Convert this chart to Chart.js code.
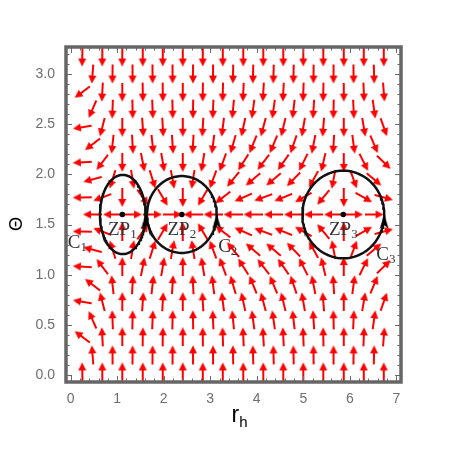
<!DOCTYPE html>
<html>
<head>
<meta charset="utf-8">
<script src="https://cdn.jsdelivr.net/npm/chart.js@4.4.1/dist/chart.umd.min.js"></script>
<style>
  html, body { margin: 0; padding: 0; background: #fff; }
  #wrap { width: 457px; height: 457px; }
</style>
</head>
<body>
<div id="wrap"><canvas id="myChart" width="457" height="457"></canvas></div>
<script>
// DATA

// grid of the vector field: rows alternate between the long and the shifted columns
const rLong = [0.25, 0.68, 1.11, 1.55, 1.98, 2.41, 2.84, 3.27, 3.71, 4.14, 4.57, 5.00, 5.43, 5.87, 6.30, 6.73];
const rShift = [0.47, 0.90, 1.33, 1.76, 2.19, 2.63, 3.06, 3.49, 3.92, 4.36, 4.79, 5.22, 5.65, 6.08, 6.52];
const thetaRows = [0.03, 0.20, 0.38, 0.55, 0.73, 0.90, 1.08, 1.25, 1.43, 1.60, 1.77, 1.95, 2.12, 2.30, 2.47, 2.65, 2.82, 3.00, 3.17];

// phi^r per column, phi^theta per row (arrow directions)
const phiRLong = [-10.5, -0.45, 0, 0.12, 0.10, 0, -0.10, -0.22, -0.38, -0.46, -0.42, -0.30, -0.14, 0, 0.30, 0.62];
const phiRShift = [-1.4, -0.12, 0.06, 0.12, 0.07, -0.06, -0.14, -0.31, -0.44, -0.45, -0.37, -0.21, -0.07, 0.14, 0.45];
const phiTheta = [500, 18, 7.9, 3.2, 1.75, 1.08, 0.6, 0.38, 0.17, 0, -0.17, -0.38, -0.6, -1.08, -1.75, -3.2, -7.9, -18, -500];

// zero points and the contours around them
const zpNames = ['1', '2', '3'];
const zpR = [1.11, 2.39, 5.86];
const zpTheta = 1.60;
const contourR0 = [1.12, 2.39, 5.86];
const contourA = [0.49, 0.75, 0.88];
const contourB = [0.395, 0.383, 0.437];
const contourLabelR = [-0.06, 3.17, 6.57];
const contourLabelTheta = [1.27, 1.23, 1.15];

const xTicks = [0, 1, 2, 3, 4, 5, 6, 7];
const yTicks = [0, 0.5, 1.0, 1.5, 2.0, 2.5, 3.0];


// GLYPHS

const makeArrow = (len, head, half, width, color) => {
    const c = document.createElement('canvas');
    c.width = len;
    c.height = half * 2 + 2;
    const g = c.getContext('2d');
    const mid = c.height / 2;
    g.strokeStyle = color;
    g.fillStyle = color;
    g.lineWidth = width;
    g.beginPath();
    g.moveTo(0, mid);
    g.lineTo(len - head + 1, mid);
    g.stroke();
    g.beginPath();
    g.moveTo(len - head, mid - half);
    g.lineTo(len, mid);
    g.lineTo(len - head, mid + half);
    g.closePath();
    g.fill();
    return c;
}

const makeHead = () => {
    const c = document.createElement('canvas');
    c.width = 10;
    c.height = 15;
    const g = c.getContext('2d');
    g.fillStyle = '#000';
    g.beginPath();
    g.moveTo(5, 0);
    g.lineTo(9.5, 15);
    g.lineTo(5, 11);
    g.lineTo(0.5, 15);
    g.closePath();
    g.fill();
    return c;
}

const arrowImg = makeArrow(19, 8, 4, 2, '#ff0000');
const headImg = makeHead();


// DATASETS

const arrowPoints = [];
thetaRows.forEach((t, k) => {
    const cols = k % 2 === 0 ? rLong : rShift;
    const phiR = k % 2 === 0 ? phiRLong : phiRShift;
    cols.forEach((r, i) => {
        const ang = Math.atan2(phiTheta[k], phiR[i]) * 180 / Math.PI;
        arrowPoints.push({x: r, y: t, rot: -ang});
    });
});

const contourPoints = (i) => {
    const pts = [];
    for (let s = 0; s <= 144; s++) {
        const u = s / 144 * 2 * Math.PI;
        pts.push({x: contourR0[i] + contourA[i] * Math.cos(u), y: zpTheta + contourB[i] * Math.sin(u)});
    }
    return pts;
}

const datasets = [
    {
        data: zpR.map(r => ({x: r, y: zpTheta})),
        pointStyle: 'circle',
        pointRadius: 2.8,
        pointBackgroundColor: '#000',
        pointBorderWidth: 0,
        order: 1,
    },
    {
        data: contourR0.map((r, i) => ({x: r + contourA[i], y: zpTheta - 0.07})),
        pointStyle: headImg,
        pointRadius: 5,
        order: 0,
    },
    ...contourR0.map((_, i) => ({
        data: contourPoints(i),
        showLine: true,
        borderColor: '#111',
        borderWidth: 2.5,
        pointRadius: 0,
        tension: 0,
        order: 2,
    })),
    {
        data: arrowPoints,
        pointStyle: arrowImg,
        pointRadius: 4,
        rotation: (c) => c.raw ? c.raw.rot : 0,
        order: 3,
    },
];


// TEXT AND FRAME

const drawSub = (ctx, main, sub, x, y, size, family, color, center) => {
    ctx.fillStyle = color;
    ctx.textBaseline = 'alphabetic';
    ctx.textAlign = 'left';
    const subSize = Math.round(size * 0.66);
    ctx.font = `${size}px ${family}`;
    const w1 = ctx.measureText(main).width;
    ctx.font = `${subSize}px ${family}`;
    const w2 = ctx.measureText(sub).width;
    const x0 = center ? x - (w1 + w2) / 2 : x;
    ctx.font = `${size}px ${family}`;
    ctx.fillText(main, x0, y);
    ctx.font = `${subSize}px ${family}`;
    ctx.fillText(sub, x0 + w1, y + size * 0.2);
}

const overlayPlugin = {
    id: 'overlay',
    afterDatasetsDraw(chart) {
        const {ctx, chartArea: a, scales: {x, y}} = chart;
        ctx.save();

        // zero point and contour labels
        zpR.forEach((r, i) => {
            drawSub(ctx, 'ZP', zpNames[i], x.getPixelForValue(r), y.getPixelForValue(zpTheta) + 20,
                19, '"Liberation Serif", serif', '#333', true);
            drawSub(ctx, 'C', zpNames[i], x.getPixelForValue(contourLabelR[i]), y.getPixelForValue(contourLabelTheta[i]),
                19, '"Liberation Serif", serif', '#333', false);
        });

        // frame ticks
        ctx.strokeStyle = '#6b6b6b';
        ctx.lineWidth = 1;
        const tick = (x1, y1, x2, y2) => {
            ctx.beginPath();
            ctx.moveTo(x1, y1);
            ctx.lineTo(x2, y2);
            ctx.stroke();
        };
        for (let i = 0; i <= 35; i++) {
            const px = Math.round(x.getPixelForValue(i * 0.2)) + 0.5;
            const len = i % 5 === 0 ? 6 : 3.5;
            tick(px, a.bottom, px, a.bottom - len);
            tick(px, a.top, px, a.top + len);
        }
        for (let i = 0; i <= 32; i++) {
            const py = Math.round(y.getPixelForValue(i * 0.1)) + 0.5;
            const len = i % 5 === 0 ? 6 : 3.5;
            tick(a.left, py, a.left + len, py);
            tick(a.right, py, a.right - len, py);
        }

        ctx.strokeStyle = '#666';
        ctx.lineWidth = 3.5;
        ctx.strokeRect(a.left, a.top, a.right - a.left, a.bottom - a.top);

        // axis titles
        const cx = (a.left + a.right) / 2;
        drawSub(ctx, 'r', 'h', cx - 2, a.bottom + 40, 23, '"Liberation Sans", sans-serif', '#000', false);

        ctx.translate(17.5, 224);
        ctx.rotate(-Math.PI / 2);
        ctx.font = '18px "Liberation Sans", sans-serif';
        ctx.textAlign = 'center';
        ctx.textBaseline = 'middle';
        ctx.fillStyle = '#000';
        ctx.fillText('Θ', 0, 0);
        ctx.restore();
    }
};


// MAIN

const tickFont = {family: 'Liberation Sans', size: 14};

new Chart(document.getElementById('myChart').getContext('2d'), {
    type: 'scatter',
    data: {datasets},
    options: {
        responsive: false,
        devicePixelRatio: 1,
        animation: false,
        events: [],
        layout: {padding: {left: 0, top: 47, right: 56, bottom: 0}},
        plugins: {legend: {display: false}, tooltip: {enabled: false}},
        scales: {
            x: {
                type: 'linear',
                min: -0.1,
                max: 7.1,
                afterBuildTicks: (s) => { s.ticks = xTicks.map(v => ({value: v})); },
                afterFit: (s) => { s.height = 75; },
                grid: {display: false, drawTicks: false},
                border: {display: false},
                ticks: {color: '#6e6e6e', font: tickFont, padding: 9, maxRotation: 0,
                    callback: (v) => String(v)},
            },
            y: {
                type: 'linear',
                min: -0.07,
                max: 3.27,
                afterBuildTicks: (s) => { s.ticks = yTicks.map(v => ({value: v})); },
                afterFit: (s) => { s.width = 66; },
                grid: {display: false, drawTicks: false},
                border: {display: false},
                ticks: {color: '#6e6e6e', font: tickFont, padding: 11,
                    callback: (v) => Number(v).toFixed(1)},
            },
        },
    },
    plugins: [overlayPlugin],
});
</script>
</body>
</html>
